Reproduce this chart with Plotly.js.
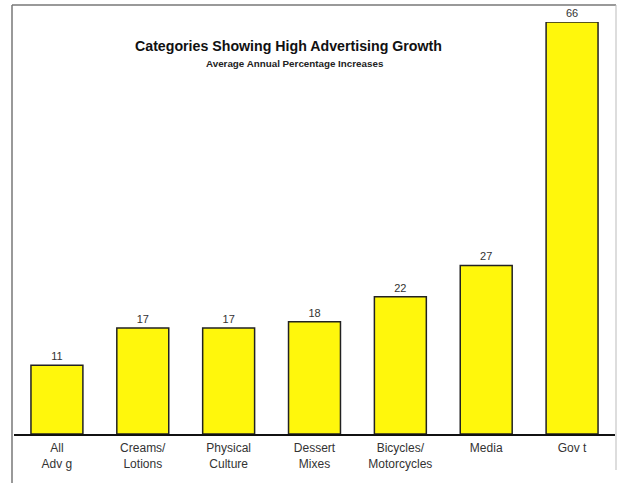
<!DOCTYPE html>
<html><head><meta charset="utf-8">
<script src="https://cdn.plot.ly/plotly-3.0.1.min.js"></script>
<style>html,body{margin:0;padding:0;background:#fff}</style>
</head><body><div id="chart" style="width:622px;height:483px"></div>
<script>
const categories = ["All<br>Adv g", "Creams/<br>Lotions", "Physical<br>Culture", "Dessert<br>Mixes", "Bicycles/<br>Motorcycles", "Media", "Gov t"];
const values = [11, 17, 17, 18, 22, 27, 66];
const titleText = "Categories Showing High Advertising Growth";
const subtitleText = "Average Annual Percentage Increases";

const W = 601; // plot width px
const H = 412; // plot height px
const data = [{
  type: 'bar', x: categories, y: values,
  text: values.map(String), textposition: 'outside', cliponaxis: false,
  textfont: {family: 'Liberation Sans, Arial, sans-serif', size: 11, color: '#333'},
  marker: {color: '#fff70c', line: {color: '#222', width: 1.5}},
  hoverinfo: 'none'
}];
const layout = {
  width: 622, height: 483,
  margin: {l: 14, r: 7, t: 22, b: 49},
  paper_bgcolor: '#fff', plot_bgcolor: '#fff',
  bargap: 0.395,
  showlegend: false,
  font: {family: 'Liberation Sans, Arial, sans-serif', color: '#333'},
  xaxis: {showline: true, linecolor: '#111', linewidth: 2, ticks: 'outside', ticklen: 2, tickcolor: 'rgba(0,0,0,0)', showgrid: false,
          tickfont: {size: 12, color: '#333'}, fixedrange: true},
  yaxis: {range: [0, 66], visible: false, showgrid: false, zeroline: false, fixedrange: true},
  annotations: [
    {xref: 'paper', yref: 'paper', x: (288-14)/W, y: 1 + (22-46)/H, text: '<b>' + titleText + '</b>',
     showarrow: false, font: {size: 14.2, color: '#111', family: 'Liberation Sans, Arial, sans-serif'}, xanchor: 'center', yanchor: 'middle'},
    {xref: 'paper', yref: 'paper', x: (295-14)/W, y: 1 + (22-64)/H, text: '<b>' + subtitleText + '</b>',
     showarrow: false, font: {size: 9.8, color: '#222', family: 'Liberation Sans, Arial, sans-serif'}, xanchor: 'center', yanchor: 'middle'}
  ],
  shapes: [
    {type: 'line', xref: 'paper', yref: 'paper', x0: -2/W, x1: -2/W, y0: 1 + 17/H, y1: -49/H, line: {color: '#777', width: 1.5}},
    {type: 'line', xref: 'paper', yref: 'paper', x0: -2/W, x1: 1 + 1/W, y0: 1 + 17/H, y1: 1 + 17/H, line: {color: '#777', width: 1.5}},
    {type: 'line', xref: 'paper', yref: 'paper', x0: 1 + 1/W, x1: 1 + 1/W, y0: 1 + 17/H, y1: -36/H, line: {color: '#bbb', width: 1}}
  ]
};
Plotly.newPlot('chart', data, layout, {displayModeBar: false, staticPlot: true});
</script></body></html>
